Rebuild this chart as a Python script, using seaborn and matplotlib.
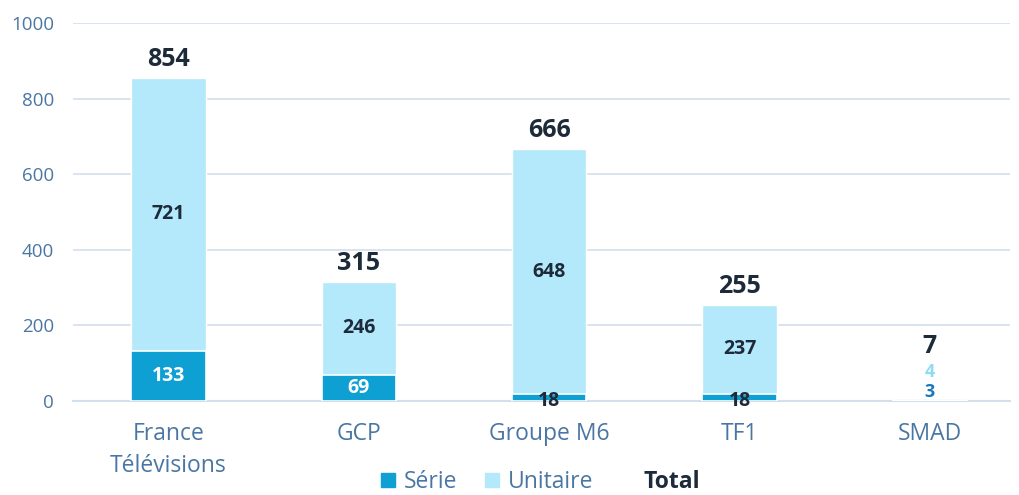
import numpy as np
import pandas as pd
import seaborn as sns
from matplotlib import pyplot as plt
from matplotlib.patches import Patch
from matplotlib.lines import Line2D

groups = ["France\nTélévisions", "GCP", "Groupe M6", "TF1", "SMAD"]
serie = [133, 69, 18, 18, 3]
unitaire = [721, 246, 648, 237, 4]
total = [854, 315, 666, 255, 7]

c_serie = "#0e9fd3"
c_unit = "#b3e9fb"
c_text = "#1d2a3a"
c_axis = "#4a76a3"
c_grid = "#d3dfeb"

df = pd.DataFrame({"group": groups, "serie": serie, "unitaire": unitaire, "total": total})

sns.set_style("white")
plt.rcParams["font.family"] = ["Open Sans", "DejaVu Sans"]

fig = plt.figure(figsize=(10.2, 4.95), dpi=100)
ax = fig.add_axes([0.072, 0.19, 0.918, 0.7635])

sns.barplot(data=df, x="group", y="total", color=c_unit, width=0.39,
            saturation=1, ax=ax, zorder=2)
sns.barplot(data=df, x="group", y="serie", color=c_serie, width=0.39,
            saturation=1, ax=ax, zorder=3, edgecolor="white", linewidth=1.2)

ax.set_ylim(0, 1000)
ax.set_xlim(-0.5, 4.42)
ax.set_yticks(range(0, 1001, 200))
ax.yaxis.grid(True, color=c_grid, linewidth=1.2, zorder=0)
ax.set_axisbelow(True)
ax.set_xlabel("")
ax.set_ylabel("")
sns.despine(ax=ax, left=True, top=True, right=True)
ax.spines["bottom"].set_color(c_grid)
ax.spines["bottom"].set_linewidth(1.5)
ax.tick_params(axis="y", length=0, labelsize=13.5, labelcolor=c_axis, pad=14)
ax.tick_params(axis="x", length=0, labelsize=16.5, labelcolor=c_axis, pad=15)
for lab in ax.get_xticklabels():
    lab.set_linespacing(1.45)
ax.set_xticks(np.arange(0.5, 4, 1), minor=True)
ax.tick_params(axis="x", which="minor", length=8, color=c_grid, width=1.2)

for i in range(len(groups)):
    s, u, t = serie[i], unitaire[i], total[i]
    if t < 50:
        ax.text(i, 112, str(t), ha="center", va="bottom", fontsize=18,
                fontweight="bold", color=c_text)
        ax.text(i, 77, str(u), ha="center", va="center", fontsize=13,
                fontweight="bold", color="#8fdaf5")
        ax.text(i, 24, str(s), ha="center", va="center", fontsize=13,
                fontweight="bold", color="#1b78b8")
        continue
    ax.text(i, t + 16, str(t), ha="center", va="bottom", fontsize=18,
            fontweight="bold", color=c_text)
    ax.text(i, s + u / 2, str(u), ha="center", va="center", fontsize=14,
            fontweight="bold", color=c_text)
    if s > 40:
        ax.text(i, s / 2, str(s), ha="center", va="center", fontsize=14,
                fontweight="bold", color="white")
    else:
        ax.text(i, -1, str(s), ha="center", va="center", fontsize=14,
                fontweight="bold", color=c_text)

handles = [Patch(color=c_serie, label="Série"), Patch(color=c_unit, label="Unitaire"),
           Line2D([], [], linestyle="none", label="Total")]
leg = fig.legend(handles=handles, loc="lower center", bbox_to_anchor=(0.53, -0.04),
                 ncol=3, frameon=False, fontsize=16.5, handlelength=0.6, handleheight=0.6,
                 handletextpad=0.4, columnspacing=1.2)
for txt in leg.get_texts():
    txt.set_color(c_axis)
leg.get_texts()[2].set_color(c_text)
leg.get_texts()[2].set_fontweight("bold")

fig.savefig("out.png", dpi=100)
